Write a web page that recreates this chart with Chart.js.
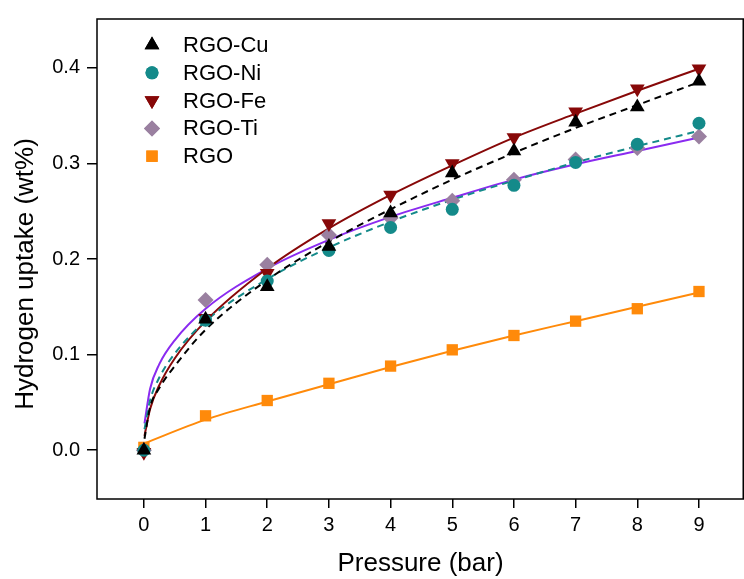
<!DOCTYPE html>
<html>
<head>
<meta charset="utf-8">
<script src="https://cdn.jsdelivr.net/npm/chart.js@4.4.0/dist/chart.umd.min.js"></script>
<style>
  html, body { margin: 0; padding: 0; background: #fff; }
  #wrap { width: 744px; height: 579px; }
</style>
</head>
<body>
<div id="wrap"><canvas id="myChart" width="744" height="579"></canvas></div>
<script>
// measured points (pressure in bar, uptake in wt%)
const pressure = [0, 1, 2, 3, 4, 5, 6, 7, 8, 9];
const cuData = [0.000, 0.137, 0.171, 0.213, 0.248, 0.290, 0.313, 0.343, 0.359, 0.386];
const niData = [0.000, 0.136, 0.177, 0.209, 0.233, 0.252, 0.277, 0.301, 0.320, 0.342];
const feData = [-0.002, 0.138, 0.185, 0.237, 0.267, 0.300, 0.327, 0.354, 0.378, 0.399];
const tiData = [0.000, 0.157, 0.194, 0.225, 0.243, 0.261, 0.283, 0.304, 0.316, 0.328];
const rgoData = [0.003, 0.036, 0.052, 0.070, 0.088, 0.105, 0.120, 0.135, 0.148, 0.166];

// fit curves
const fitX = [0.01, 0.1, 0.25, 0.5, 1, 2, 3, 4, 5, 6, 7, 8, 9];
const cuFit = [0.012, 0.045, 0.065, 0.088, 0.126, 0.178, 0.218, 0.252, 0.283, 0.311, 0.337, 0.361, 0.385];
const niFit = [0.022, 0.052, 0.076, 0.101, 0.135, 0.179, 0.212, 0.239, 0.262, 0.282, 0.301, 0.318, 0.334];
const feFit = [0.015, 0.043, 0.068, 0.096, 0.135, 0.190, 0.232, 0.267, 0.298, 0.327, 0.352, 0.376, 0.399];
const tiFit = [0.028, 0.064, 0.090, 0.115, 0.148, 0.190, 0.220, 0.244, 0.264, 0.283, 0.299, 0.313, 0.327];
const rgoFitX = [0, 1, 2, 3, 4, 5, 6, 7, 8, 9];
const rgoFit = [0.007, 0.032, 0.051, 0.069, 0.087, 0.104, 0.120, 0.135, 0.150, 0.165];

const xTicks = [0, 1, 2, 3, 4, 5, 6, 7, 8, 9];
const yTicks = [0, 0.1, 0.2, 0.3, 0.4];

const seriesNames = ['RGO-Cu', 'RGO-Ni', 'RGO-Fe', 'RGO-Ti', 'RGO'];
const xTitle = 'Pressure (bar)';
const yTitle = 'Hydrogen uptake (wt%)';

function pts(xs, ys){
    return xs.map((x, i) => ({x: x, y: ys[i]}));
}

const FONT = '"Liberation Sans", Arial, sans-serif';

function fitLine(xs, ys, color, dash){
    return {
        label: '', data: pts(xs, ys), showLine: true, borderColor: color,
        borderWidth: 2, borderDash: dash, pointRadius: 0, pointHoverRadius: 0,
        cubicInterpolationMode: 'monotone', fill: false, order: 2
    };
}

function markers(name, ys, color, style, r, rot){
    return {
        label: name, data: pts(pressure, ys), showLine: false,
        backgroundColor: color, borderColor: color, borderWidth: 0,
        pointStyle: style, pointRadius: r, pointRotation: rot || 0, order: 1
    };
}

const colors = {
    cu: '#000000', ni: '#148a8a', fe: '#870808', tiMark: '#9a80a0', tiLine: '#8a2bf0', rgo: '#ff8a0a'
};

const markerSets = [
    markers(seriesNames[0], cuData, colors.cu, 'triangle', 8.5),
    markers(seriesNames[1], niData, colors.ni, 'circle', 6.5),
    markers(seriesNames[2], feData, colors.fe, 'triangle', 8.5, 180),
    markers(seriesNames[3], tiData, colors.tiMark, 'rectRot', 8),
    markers(seriesNames[4], rgoData, colors.rgo, 'rect', 8)
];

// box round the plot, legend inside it, y title
const boxAndLegend = {
    id: 'boxAndLegend',
    afterDraw(chart){
        const ctx = chart.ctx;
        const a = chart.chartArea;
        ctx.save();
        ctx.strokeStyle = '#000';
        ctx.lineWidth = 1.5;
        ctx.strokeRect(a.left, a.top, a.right - a.left - 0.75, a.bottom - a.top);

        ctx.font = '22px ' + FONT;
        ctx.textBaseline = 'middle';
        markerSets.forEach((ds, i) => {
            const y = 45 + i * 27.8;
            ctx.fillStyle = ds.backgroundColor;
            Chart.helpers.drawPoint(ctx, {pointStyle: ds.pointStyle, radius: ds.pointRadius, rotation: ds.pointRotation, borderWidth: 0}, 152, y);
            ctx.fill();
            ctx.fillStyle = '#000';
            ctx.fillText(ds.label, 183, y + 1);
        });

        // y axis title
        ctx.translate(26, 274);
        ctx.rotate(-Math.PI / 2);
        ctx.font = '26px ' + FONT;
        ctx.textAlign = 'center';
        ctx.fillStyle = '#000';
        ctx.fillText(yTitle, 0, 0);
        ctx.restore();
    }
};

const grafico = new Chart(document.getElementById('myChart'), {
    type: 'scatter',
    data: {
        datasets: [
            ...markerSets,
            fitLine(fitX, cuFit, colors.cu, [7, 5]),
            fitLine(fitX, niFit, colors.ni, [7, 5]),
            fitLine(fitX, feFit, colors.fe, []),
            fitLine(fitX, tiFit, colors.tiLine, []),
            fitLine(rgoFitX, rgoFit, colors.rgo, [])
        ]
    },
    options: {
        responsive: false,
        animation: false,
        layout: { autoPadding: false, padding: { top: 14, right: 0, left: 0, bottom: 0 } },
        plugins: { legend: { display: false }, tooltip: { enabled: false } },
        scales: {
            x: {
                type: 'linear', min: -0.76, max: 9.73,
                afterFit: s => { s.height = 80; },
                afterBuildTicks: s => { s.ticks = xTicks.map(v => ({value: v})); },
                grid: { drawOnChartArea: false, drawTicks: true, tickLength: 9, color: '#000', lineWidth: 1.5 },
                border: { display: false },
                ticks: { color: '#000', padding: 5, font: { family: FONT, size: 20 }, callback: v => String(v) },
                title: { display: true, text: xTitle, color: '#000', font: { family: FONT, size: 26 }, padding: { top: 0, bottom: 0 } }
            },
            y: {
                type: 'linear', min: -0.051, max: 0.451,
                afterFit: s => { s.width = 97; },
                afterBuildTicks: s => { s.ticks = yTicks.map(v => ({value: v})); },
                grid: { drawOnChartArea: false, drawTicks: true, tickLength: 10, color: '#000', lineWidth: 1.5 },
                border: { display: false },
                ticks: { color: '#000', padding: 7, font: { family: FONT, size: 20 }, callback: v => v.toFixed(1) },
                title: { display: false }
            }
        }
    },
    plugins: [boxAndLegend]
});
</script>
</body>
</html>
